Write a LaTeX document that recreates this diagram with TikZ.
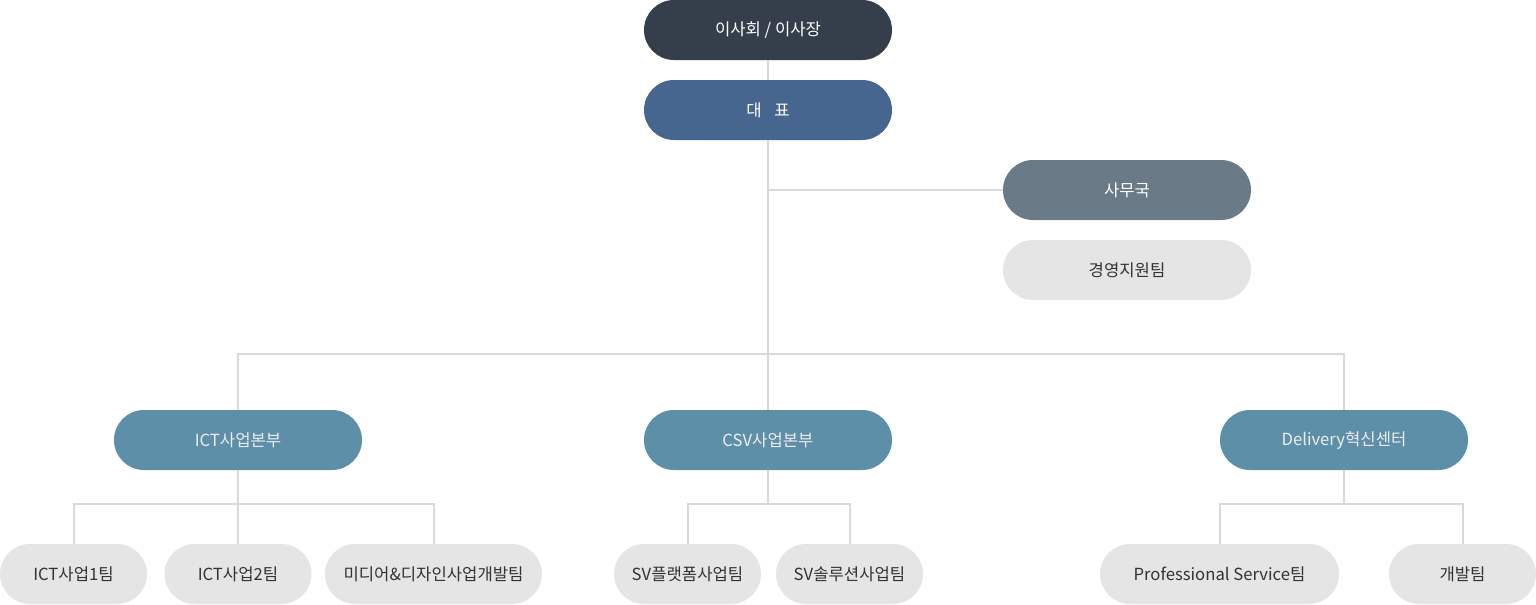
\documentclass[tikz,border=0pt]{standalone}
\usepackage{fontspec}
\setmainfont{Noto Sans CJK KR}
\usetikzlibrary{positioning,calc}
\definecolor{boardslate}{HTML}{353F4B}
\definecolor{ceoblue}{HTML}{46668F}
\definecolor{officegray}{HTML}{6A7B87}
\definecolor{divteal}{HTML}{5E8FA9}
\definecolor{teamgray}{HTML}{E5E5E5}
\definecolor{teamtext}{HTML}{333333}
\definecolor{linkgray}{HTML}{D9D9D9}
\tikzset{
  pill/.style={rounded corners=22.5pt,minimum height=45pt,inner sep=0pt,
    font=\fontsize{12.5pt}{15pt}\selectfont},
  topbox/.style={pill,minimum width=186pt,fill=#1,text=white},
  divbox/.style={pill,minimum width=186pt,fill=divteal,text=white!93!black},
  teambox/.style={pill,minimum width=#1,fill=teamgray,text=teamtext},
  teambox/.default=110.25pt,
  link/.style={draw=linkgray,line width=1.5pt}
}

\begin{document}
\begin{tikzpicture}[x=0.75pt,y=-0.75pt]
\useasboundingbox (0,0) rectangle (1536,604);
\node[topbox=boardslate] (board) at (768,30) {이사회 / 이사장};
\node[topbox=ceoblue] (ceo) at (768,110) {대\hspace{0.75em}표};
\node[topbox=officegray] (office) at (1127,190) {사무국};
\node[teambox=186pt] (mgmt) at (1127,270) {경영지원팀};
\node[divbox] (ict) at (238,440) {ICT사업본부};
\node[divbox] (csv) at (768,440) {CSV사업본부};
\node[divbox] (dlv) at (1344,440) {Delivery혁신센터};
\node[teambox] (ict1) at (73.5,574) {ICT사업1팀};
\node[teambox] (ict2) at (238,574) {ICT사업2팀};
\node[teambox=162.75pt] (ictmd) at (433.5,574) {미디어\&디자인사업개발팀};
\node[teambox] (svp) at (687.5,574) {SV플랫폼사업팀};
\node[teambox] (svs) at (849.5,574) {SV솔루션사업팀};
\node[teambox=179.25pt] (pro) at (1219.5,574) {Professional Service팀};
\node[teambox] (dev) at (1462.5,574) {개발팀};
% trunk and branches
\coordinate (divbar) at (768,354);
\coordinate (ictbar) at (238,504);
\coordinate (csvbar) at (768,504);
\coordinate (dlvbar) at (1344,504);
\draw[link] (board) -- (ceo);
\draw[link] (ceo) -- (csv);
\draw[link] (ceo |- office) -- (office);
\draw[link] (ict) |- (divbar) -| (dlv);
\draw[link] (ict) -- (ict2);
\draw[link] (ict1) |- (ictbar) -| (ictmd);
\draw[link] (csv) -- (csvbar);
\draw[link] (svp) |- (csvbar) -| (svs);
\draw[link] (dlv) -- (dlvbar);
\draw[link] (pro) |- (dlvbar) -| (dev);
\end{tikzpicture}
\end{document}
